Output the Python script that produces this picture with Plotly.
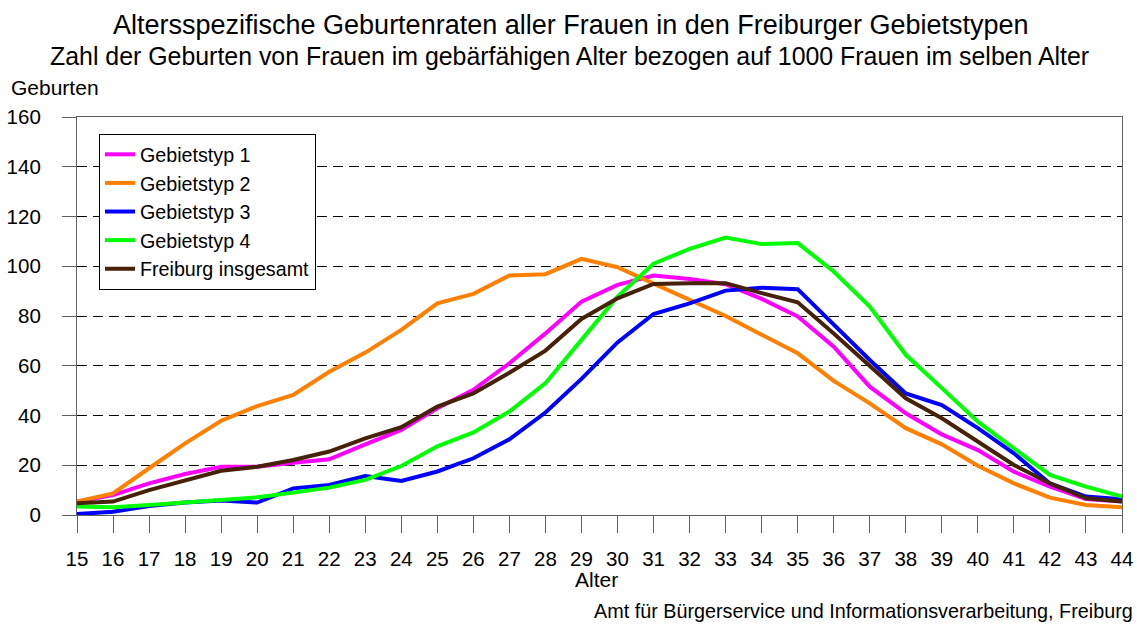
import plotly.graph_objects as go

ages = list(range(15, 45))

gebietstyp_1 = [5.4, 8.0, 12.7, 16.5, 19.4, 19.4, 21.0, 22.4, 28.4, 34.2,
                42.9, 50.3, 61.0, 73.0, 85.8, 92.5, 96.3, 94.9, 92.8, 86.9,
                79.8, 67.7, 51.6, 40.9, 32.4, 26.1, 17.4, 11.4, 6.4, 5.4]
gebietstyp_2 = [5.4, 8.7, 18.8, 28.8, 37.9, 43.8, 48.3, 57.6, 65.3, 74.4,
                85.1, 88.9, 96.3, 96.8, 103.0, 99.6, 93.0, 86.5, 80.0, 72.5,
                65.0, 53.9, 44.9, 34.9, 28.4, 19.8, 12.7, 7.0, 4.0, 3.1]
gebietstyp_3 = [0.4, 1.3, 3.6, 5.0, 5.8, 5.0, 10.7, 12.1, 15.7, 13.7,
                17.5, 22.8, 30.4, 41.2, 54.7, 69.4, 80.8, 85.1, 90.2, 91.4,
                90.8, 76.4, 62.3, 48.9, 44.2, 34.9, 24.8, 12.7, 7.4, 6.3]
gebietstyp_4 = [3.4, 3.1, 4.0, 5.0, 6.0, 7.1, 9.0, 11.0, 14.1, 19.7,
                27.6, 33.2, 41.6, 53.0, 70.4, 87.8, 101.0, 107.0, 111.5, 108.9,
                109.3, 97.9, 83.8, 64.4, 51.0, 37.5, 26.8, 16.1, 11.4, 7.4]
freiburg = [4.7, 5.4, 10.0, 14.1, 17.8, 19.4, 22.1, 25.5, 30.8, 35.3,
            43.6, 48.9, 57.2, 66.1, 78.8, 87.1, 92.9, 93.2, 93.2, 89.2,
            85.5, 73.0, 59.7, 46.9, 38.9, 29.5, 20.1, 12.7, 6.7, 5.4]

y_ticks = [0, 20, 40, 60, 80, 100, 120, 140, 160]

series_names = ["Gebietstyp 1", "Gebietstyp 2", "Gebietstyp 3", "Gebietstyp 4", "Freiburg insgesamt"]
series_values = [gebietstyp_1, gebietstyp_2, gebietstyp_3, gebietstyp_4, freiburg]
series_colors = ["#FF00FF", "#FF8000", "#0000FF", "#00FF00", "#462209"]

title = "Altersspezifische Geburtenraten aller Frauen in den Freiburger Gebietstypen"
subtitle = "Zahl der Geburten von Frauen im gebärfähigen Alter bezogen auf 1000 Frauen im selben Alter"
y_label = "Geburten"
x_label = "Alter"
footer = "Amt für Bürgerservice und Informationsverarbeitung, Freiburg"

FONT = "Liberation Sans, Arial, sans-serif"
W, H = 1137, 625
L, R, T, B = 77, 15, 117, 110
PW, PH = W - L - R, H - T - B


def px_x(p):
    return (p - L) / PW


def px_y(p):
    return (H - B - p) / PH


fig = go.Figure()
for i, (name, vals, col) in enumerate(zip(series_names, series_values, series_colors)):
    fig.add_trace(go.Scatter(
        x=ages, y=vals, name=name, mode="lines",
        line=dict(color=col, width=4),
        legendgroup=f"g{i}",
    ))

axis_line = "#606060"
fig.update_layout(
    width=W, height=H,
    margin=dict(l=L, r=R, t=T, b=B, pad=0, autoexpand=False),
    paper_bgcolor="white", plot_bgcolor="white",
    font=dict(family=FONT, size=20, color="black"),
    showlegend=True,
    legend=dict(
        x=px_x(99), y=px_y(134), xanchor="left", yanchor="top",
        bgcolor="white", bordercolor="black", borderwidth=1,
        font=dict(size=19.7, family=FONT),
        tracegroupgap=0, traceorder="grouped",
        itemwidth=30,
    ),
    xaxis=dict(
        range=[15, 44], tickmode="array", tickvals=ages,
        ticktext=[str(a) for a in ages],
        showgrid=False, zeroline=False,
        showline=True, linecolor=axis_line, linewidth=1, mirror=True,
        ticks="outside", ticklen=17, tickcolor=axis_line, tickwidth=1,
        tickfont=dict(size=20.5, family=FONT),
        ticklabelstandoff=8,
    ),
    yaxis=dict(
        range=[0, 160], tickmode="array", tickvals=y_ticks,
        ticktext=[f"{v}\u00a0\u00a0\u00a0" for v in y_ticks],
        showgrid=True, gridcolor="#000000", gridwidth=1, griddash="10px,6px",
        zeroline=False,
        showline=True, linecolor=axis_line, linewidth=1, mirror=True,
        ticks="outside", ticklen=14, tickcolor=axis_line, tickwidth=1,
        tickfont=dict(size=20.5, family=FONT),
    ),
)

annotations = [
    dict(text=title, x=px_x(570), y=px_y(25), font=dict(size=27, family=FONT),
         xanchor="center", yanchor="middle"),
    dict(text=subtitle, x=px_x(569), y=px_y(56), font=dict(size=24.9, family=FONT),
         xanchor="center", yanchor="middle"),
    dict(text=y_label, x=px_x(9), y=px_y(88), font=dict(size=21, family=FONT),
         xanchor="left", yanchor="middle"),
    dict(text=x_label, x=px_x(596), y=px_y(579), font=dict(size=21, family=FONT),
         xanchor="center", yanchor="middle"),
    dict(text=footer, x=px_x(1135), y=px_y(611), font=dict(size=19.8, family=FONT),
         xanchor="right", yanchor="middle"),
]
for a in annotations:
    a.update(xref="paper", yref="paper", showarrow=False)
fig.update_layout(annotations=annotations)

fig.write_html(
    "out.html",
    config={"displayModeBar": False},
    post_script="document.body.style.margin='0';document.body.style.overflow='hidden';",
)
